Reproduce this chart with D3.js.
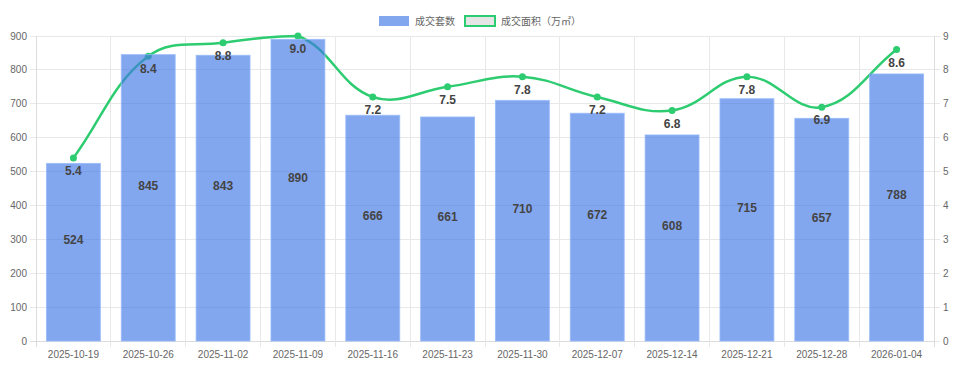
<!DOCTYPE html>
<html><head><meta charset="utf-8">
<script src="https://cdn.jsdelivr.net/npm/d3@7"></script>
<style>body{margin:0;background:#fff;}svg{display:block;font-family:"Liberation Sans",Arial,"Noto Sans CJK SC",sans-serif;}</style>
</head><body><svg id="c" width="960" height="373"></svg>
<script>
const categories = ["2025-10-19","2025-10-26","2025-11-02","2025-11-09","2025-11-16","2025-11-23","2025-11-30","2025-12-07","2025-12-14","2025-12-21","2025-12-28","2026-01-04"];
const units = [524,845,843,890,666,661,710,672,608,715,657,788];
const area = [5.4,8.4,8.8,9.0,7.2,7.5,7.8,7.2,6.8,7.8,6.9,8.6];
const leftTicks = [0,100,200,300,400,500,600,700,800,900];
const rightTicks = [0,1,2,3,4,5,6,7,8,9];
const seriesNames = ["成交套数","成交面积（万㎡）"];

const svg = d3.select("#c");
const L = 36, R = 934, T = 36, B = 341;
const x = d3.scaleBand().domain(categories).range([L, R]).paddingInner(0).paddingOuter(0);
const yL = d3.scaleLinear().domain([0, 900]).range([B, T]);
const yR = d3.scaleLinear().domain([0, 9]).range([B, T]);
const gridC = "#e8e8e8", axisC = "#dcdcdc", tickC = "#666";
const barFill = "rgba(65,120,230,0.65)", lineC = "#2ecc71";

// horizontal grid
const g = svg.append("g");
leftTicks.forEach(t => {
  g.append("line").attr("x1", L - 6).attr("x2", R).attr("y1", yL(t)).attr("y2", yL(t))
    .attr("stroke", t === 0 ? axisC : gridC).attr("stroke-width", 1).attr("shape-rendering","crispEdges");
  g.append("text").attr("x", L - 9).attr("y", yL(t) + 3.5).attr("text-anchor", "end")
    .attr("font-size", 10).attr("fill", tickC).text(t);
});
// right ticks
rightTicks.forEach(t => {
  g.append("line").attr("x1", R).attr("x2", R + 6).attr("y1", yR(t)).attr("y2", yR(t))
    .attr("stroke", gridC).attr("shape-rendering","crispEdges");
  g.append("text").attr("x", R + 9).attr("y", yR(t) + 3.5).attr("text-anchor", "start")
    .attr("font-size", 10).attr("fill", tickC).text(t);
});
// vertical grid at category boundaries
const bounds = categories.map(c => x(c)).concat([R]);
bounds.forEach((bx, i) => {
  g.append("line").attr("x1", bx).attr("x2", bx).attr("y1", T).attr("y2", B + 6)
    .attr("stroke", (i === 0 || i === bounds.length - 1) ? axisC : gridC).attr("shape-rendering","crispEdges");
});
// x labels
categories.forEach(c => {
  g.append("text").attr("x", x(c) + x.bandwidth() / 2).attr("y", B + 17).attr("text-anchor", "middle")
    .attr("font-size", 10).attr("fill", tickC).text(c);
});

// Chart.js-like spline
const pts = categories.map((c, i) => ({x: x(c) + x.bandwidth() / 2, y: yR(area[i])}));
const t = 0.4;
pts.forEach((p, i) => {
  const prev = pts[i - 1] || p, next = pts[i + 1] || p;
  const d01 = Math.hypot(p.x - prev.x, p.y - prev.y), d12 = Math.hypot(next.x - p.x, next.y - p.y);
  let s01 = d01 / (d01 + d12), s12 = d12 / (d01 + d12);
  if (isNaN(s01)) s01 = 0; if (isNaN(s12)) s12 = 0;
  const fa = t * s01, fb = t * s12;
  p.cpPrev = {x: p.x - fa * (next.x - prev.x), y: p.y - fa * (next.y - prev.y)};
  p.cpNext = {x: p.x + fb * (next.x - prev.x), y: p.y + fb * (next.y - prev.y)};
  [p.cpPrev, p.cpNext].forEach(cp => { cp.x = Math.max(L, Math.min(R, cp.x)); cp.y = Math.max(T, Math.min(B, cp.y)); });
});
const path = d3.path();
path.moveTo(pts[0].x, pts[0].y);
for (let i = 1; i < pts.length; i++) {
  const a = pts[i - 1], b = pts[i];
  path.bezierCurveTo(a.cpNext.x, a.cpNext.y, b.cpPrev.x, b.cpPrev.y, b.x, b.y);
}
svg.append("path").attr("d", path.toString()).attr("fill", "none").attr("stroke", lineC).attr("stroke-width", 2.5);
svg.selectAll("circle.pt").data(pts).join("circle").attr("cx", d => d.x).attr("cy", d => d.y).attr("r", 3.5).attr("fill", lineC);

// bars
const bw = x.bandwidth() * 0.72;
svg.selectAll("rect.bar").data(units).join("rect")
  .attr("x", (d, i) => x(categories[i]) + (x.bandwidth() - bw) / 2)
  .attr("y", d => yL(d)).attr("width", bw).attr("height", d => B - yL(d))
  .attr("fill", barFill).attr("stroke", "rgba(150,185,250,0.8)").attr("stroke-width", 1);

// bar labels
svg.selectAll("text.bl").data(units).join("text")
  .attr("x", (d, i) => x(categories[i]) + x.bandwidth() / 2)
  .attr("y", d => (yL(d) + B) / 2 - 8).attr("text-anchor", "middle")
  .attr("font-size", 12).attr("font-weight", "bold").attr("fill", "#444").text(d => d);
// line labels
svg.selectAll("text.ll").data(area).join("text")
  .attr("x", (d, i) => pts[i].x).attr("y", (d, i) => pts[i].y + 17).attr("text-anchor", "middle")
  .attr("font-size", 12).attr("font-weight", "bold").attr("fill", "#444").text(d => d.toFixed(1));

// legend
const lg = svg.append("g");
let cx = 0;
const items = [];
seriesNames.forEach((n, i) => {
  const it = lg.append("g");
  it.append("rect").attr("x", 0).attr("y", 0).attr("width", 30).attr("height", 10)
    .attr("fill", i === 0 ? barFill : "#e5e5e5")
    .attr("stroke", i === 0 ? "none" : lineC).attr("stroke-width", i === 0 ? 0 : 2);
  const tx = it.append("text").attr("x", 36).attr("y", 9).attr("font-size", 10).attr("fill", "#666").text(n);
  const w = 36 + tx.node().getComputedTextLength();
  it.attr("transform", `translate(${cx},0)`);
  cx += w + 10;
});
const totalW = cx - 10;
lg.attr("transform", `translate(${480 - totalW / 2},16)`);
</script></body></html>
